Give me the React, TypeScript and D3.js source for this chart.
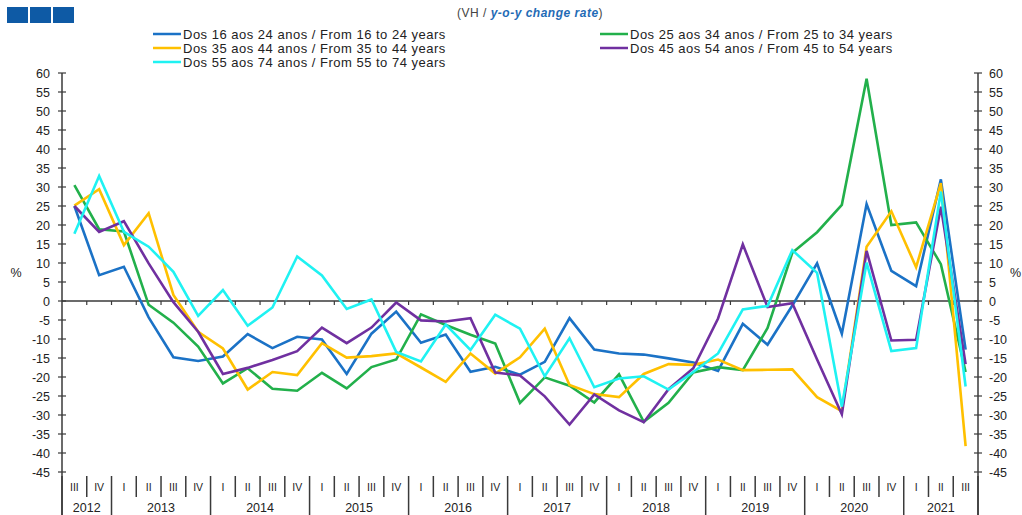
import React from 'react';
import * as d3 from 'd3';

// ---- Data ----
const years = [2012, 2013, 2014, 2015, 2016, 2017, 2018, 2019, 2020, 2021];
const quarterNames = ['I', 'II', 'III', 'IV'];
const firstQuarter = 3; // 2012 III
const lastQuarter = 3; // 2021 III

const categories: { key: string; year: number; q: number }[] = [];
years.forEach((yr, yi) => {
  const qs = yi === 0 ? firstQuarter : 1;
  const qe = yi === years.length - 1 ? lastQuarter : 4;
  for (let q = qs; q <= qe; q++) categories.push({ key: `${yr}-${q}`, year: yr, q });
});

const yTicks = d3.range(-45, 61, 5);

const age16to24 = [25, 6.8, 9, -4.3, -14.8, -15.8, -14.6, -8.7, -12.4, -9.4, -10.1, -19.2, -8.6, -2.8, -11.0, -8.8, -18.6, -17.3, -19.4, -16.0, -4.5, -12.8, -13.8, -14.1, -15.1, -16.2, -18.4, -6.0, -11.5, -1.2, 9.9, -8.6, 25.5, 7.9, 3.9, 32, -12.8];
const age25to34 = [30.5, 18.9, 18.3, -1, -5.7, -12, -21.7, -17.7, -23.1, -23.6, -18.9, -23, -17.4, -15.4, -3.5, -6.3, -8.9, -11.2, -26.8, -20.1, -22.3, -26.7, -19.3, -31.8, -26.8, -18.8, -17.4, -18.2, -7.1, 12.7, 18.1, 25.3, 58.5, 20, 20.7, 9.7, -18.7];
const age35to44 = [25.1, 29.4, 14.7, 23.1, 1.6, -8.1, -12.5, -23.3, -18.7, -19.5, -11.1, -14.9, -14.5, -13.8, -17.5, -21.3, -13.8, -19.1, -14.8, -7.3, -22.1, -24.5, -25.3, -19.2, -16.6, -16.8, -15.4, -18.2, -18.1, -18, -25.3, -29, 14.3, 23.6, 8.9, 31, -38.2];
const age45to54 = [25, 18.2, 21, 9.9, -0.3, -8.1, -19.2, -17.6, -15.5, -13.2, -7, -11.1, -7, -0.4, -5.1, -5.4, -4.5, -18.8, -19.6, -25.1, -32.5, -24.6, -28.8, -31.9, -23.2, -17.7, -4.6, 14.9, -1.6, -0.6, -15.4, -29.8, 13.2, -10.4, -10.2, 24.8, -16.6];
const age55to74 = [17.7, 32.9, 18.2, 14.3, 7.7, -3.9, 2.9, -6.5, -1.7, 11.7, 6.7, -2.1, 0.4, -13.4, -15.9, -6.2, -12.9, -3.6, -7.3, -19.8, -9.8, -22.7, -20.4, -19.8, -23.3, -18.7, -13.8, -2.2, -1.3, 13.4, 7.4, -27.8, 10.1, -13.2, -12.4, 28.8, -22.5];

const seriesLabels = [
  'Dos 16 aos 24 anos / From 16 to 24 years',
  'Dos 25 aos 34 anos / From 25 to 34 years',
  'Dos 35 aos 44 anos / From 35 to 44 years',
  'Dos 45 aos 54 anos / From 45 to 54 years',
  'Dos 55 aos 74 anos / From 55 to 74 years',
];
const seriesValues = [age16to24, age25to34, age35to44, age45to54, age55to74];
const seriesColors = ['#1B72C6', '#22B04B', '#FFC000', '#7030A0', '#1FF2F2'];

const FONT = "'Liberation Sans', Arial, sans-serif";

export default function App() {
  const W = 1022;
  const H = 515;
  const x0 = 62;
  const x1 = 978;
  const yTop = 73;
  const yBot = 472;

  const x = d3.scaleBand<string>().domain(categories.map((c) => c.key)).range([x0, x1]).padding(0);
  const y = d3.scaleLinear().domain([-45, 60]).range([yBot, yTop]);
  const cx = (i: number) => (x(categories[i].key) as number) + x.bandwidth() / 2;
  const line = d3
    .line<number>()
    .x((_, i) => cx(i))
    .y((d) => y(d));

  const axisColor = '#3a3a3a';
  const textColor = '#222';

  // Year boundaries
  const yearStarts: number[] = [];
  categories.forEach((c, i) => {
    if (i === 0 || categories[i - 1].year !== c.year) yearStarts.push(i);
  });
  const yearBoundaryX = yearStarts.map((i) => x(categories[i].key) as number).concat([x1]);

  // Legend layout
  const legendPos = [
    { lx: 153, ly: 34 },
    { lx: 600, ly: 34 },
    { lx: 153, ly: 48 },
    { lx: 600, ly: 48 },
    { lx: 153, ly: 62 },
  ];

  return (
    <svg
      width={W}
      height={H}
      style={{ position: 'absolute', left: 0, top: 0, background: '#fff' }}
      fontFamily={FONT}
    >
      <rect x={0} y={0} width={W} height={H} fill="#fff" />
      {/* header squares */}
      {[7, 30, 53].map((sx, i) => (
        <rect key={i} x={sx} y={7} width={21} height={16} fill="#0E5AA5" />
      ))}
      {/* subtitle */}
      <text x={457} y={17} fontSize={12} letterSpacing={0.5} fill="#444">
        (VH /{' '}
        <tspan fill="#1F6BB5" fontWeight="bold" fontStyle="italic">
          y-o-y change rate
        </tspan>
        )
      </text>

      {/* legend */}
      {seriesLabels.map((lab, i) => (
        <g key={lab}>
          <line
            x1={legendPos[i].lx}
            x2={legendPos[i].lx + 28}
            y1={legendPos[i].ly}
            y2={legendPos[i].ly}
            stroke={seriesColors[i]}
            strokeWidth={2.5}
          />
          <text
            x={legendPos[i].lx + 30}
            y={legendPos[i].ly + 4.5}
            fontSize={13}
            letterSpacing={0.5}
            fill={textColor}
          >
            {lab}
          </text>
        </g>
      ))}

      {/* Left axis */}
      <line x1={x0} x2={x0} y1={yTop} y2={H} stroke={axisColor} strokeWidth={1.5} />
      {yTicks.map((t) => (
        <g key={`l${t}`}>
          <line x1={x0 - 4} x2={x0 + 4} y1={y(t)} y2={y(t)} stroke={axisColor} strokeWidth={1.2} />
          <text x={50} y={y(t) + 4.5} fontSize={12.5} textAnchor="end" fill={textColor}>
            {t}
          </text>
        </g>
      ))}
      {/* Right axis */}
      <line x1={x1} x2={x1} y1={yTop} y2={H} stroke={axisColor} strokeWidth={1.5} />
      {yTicks.map((t) => (
        <g key={`r${t}`}>
          <line x1={x1 - 4} x2={x1 + 4} y1={y(t)} y2={y(t)} stroke={axisColor} strokeWidth={1.2} />
          <text x={989} y={y(t) + 4.5} fontSize={12.5} textAnchor="start" fill={textColor}>
            {t}
          </text>
        </g>
      ))}
      <text x={16} y={277} fontSize={12.5} textAnchor="middle" fill={textColor}>
        %
      </text>
      <text x={1010} y={277} fontSize={12.5} textAnchor="start" fill={textColor}>
        %
      </text>

      {/* zero line with quarter ticks */}
      <line x1={x0} x2={x1} y1={y(0)} y2={y(0)} stroke={axisColor} strokeWidth={1.5} />
      {categories.map((c, i) =>
        i === 0 ? null : (
          <line
            key={`zt${c.key}`}
            x1={x(c.key) as number}
            x2={x(c.key) as number}
            y1={y(0)}
            y2={y(0) + 4}
            stroke={axisColor}
            strokeWidth={1.2}
          />
        )
      )}

      {/* series */}
      {seriesValues.map((vals, i) => (
        <path
          key={`s${i}`}
          d={line(vals) as string}
          fill="none"
          stroke={seriesColors[i]}
          strokeWidth={2.6}
          strokeLinejoin="miter"
        />
      ))}

      {/* category axis */}
      {categories.map((c, i) => {
        const isYearStart = yearStarts.includes(i);
        const bx = x(c.key) as number;
        return (
          <g key={`q${c.key}`}>
            {!isYearStart && (
              <line x1={bx} x2={bx} y1={476} y2={497} stroke={axisColor} strokeWidth={1.5} />
            )}
            <text x={cx(i)} y={491} fontSize={10.5} textAnchor="middle" fill={textColor}>
              {quarterNames[c.q - 1]}
            </text>
          </g>
        );
      })}
      {yearBoundaryX.map((bx, i) => (
        <line key={`yb${i}`} x1={bx} x2={bx} y1={476} y2={H} stroke={axisColor} strokeWidth={1.5} />
      ))}
      {yearStarts.map((si, k) => {
        const start = x(categories[si].key) as number;
        const end = yearBoundaryX[k + 1];
        return (
          <text key={`yl${si}`} x={(start + end) / 2} y={512} fontSize={12.5} textAnchor="middle" fill={textColor}>
            {categories[si].year}
          </text>
        );
      })}
    </svg>
  );
}
